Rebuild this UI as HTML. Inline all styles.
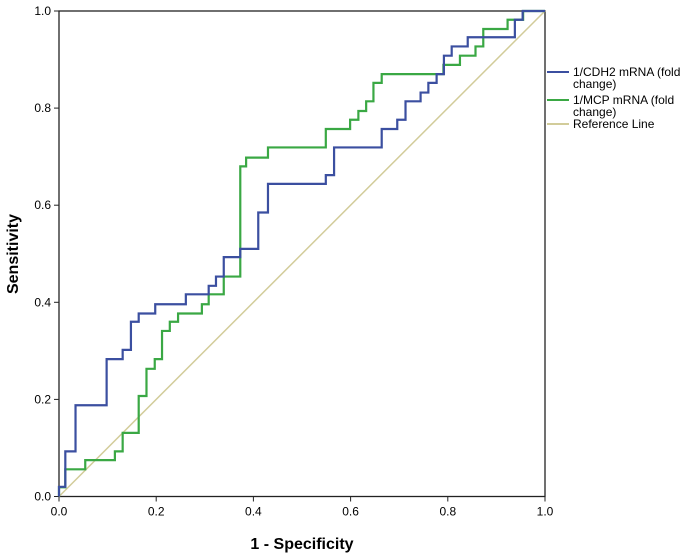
<!DOCTYPE html>
<html><head><meta charset="utf-8"><style>
body{margin:0;background:#fff;}
svg{display:block;font-family:"Liberation Sans",Arial,sans-serif;}
</style></head><body>
<svg id="chart" width="694" height="555" viewBox="0 0 694 555">
<g id="axes"></g>
<g id="series"></g>
<g id="legend"></g>
<text x="302" y="549" font-size="16" font-weight="bold" text-anchor="middle">1 - Specificity</text>
<text x="18" y="254" font-size="16" font-weight="bold" text-anchor="middle" transform="rotate(-90 18 254)">Sensitivity</text>
</svg>
<script>
const xTicks=[0,0.2,0.4,0.6,0.8,1.0];
const yTicks=[0,0.2,0.4,0.6,0.8,1.0];
const tickLabels=["0.0","0.2","0.4","0.6","0.8","1.0"];
const cdh2Fpr=[0,0.013,0.034,0.098,0.131,0.148,0.164,0.198,0.261,0.308,0.323,0.339,0.373,0.41,0.43,0.549,0.566,0.664,0.696,0.713,0.744,0.760,0.777,0.792,0.808,0.841,0.938,0.954,1];
const cdh2Tpr=[0.02,0.093,0.188,0.283,0.302,0.36,0.377,0.396,0.4165,0.434,0.453,0.493,0.51,0.585,0.644,0.662,0.719,0.757,0.776,0.814,0.832,0.852,0.870,0.908,0.927,0.946,0.982,1,1];
const mcpFpr=[0,0.013,0.054,0.115,0.131,0.164,0.180,0.197,0.212,0.228,0.245,0.294,0.308,0.339,0.373,0.385,0.43,0.549,0.599,0.616,0.632,0.647,0.664,0.791,0.825,0.857,0.873,0.923,0.955,1];
const mcpTpr=[0.019,0.056,0.075,0.093,0.131,0.207,0.263,0.283,0.341,0.36,0.377,0.396,0.4165,0.453,0.68,0.698,0.719,0.757,0.776,0.794,0.814,0.852,0.870,0.889,0.908,0.927,0.963,0.982,1,1];
const legendLabels=[["1/CDH2 mRNA (fold","change)"],["1/MCP mRNA (fold","change)"],["Reference Line"]];

const NS="http://www.w3.org/2000/svg";
const X0=59,X1=545,Y0=496.5,Y1=11;
const sx=v=>X0+v*(X1-X0), sy=v=>Y0-v*(Y0-Y1);
function mk(tag,attrs,parent){const e=document.createElementNS(NS,tag);for(const k in attrs)e.setAttribute(k,attrs[k]);parent.appendChild(e);return e;}
const axes=document.getElementById('axes'),series=document.getElementById('series'),legend=document.getElementById('legend');
const frame=mk('rect',{x:X0,y:Y1,width:X1-X0,height:Y0-Y1,fill:'none',stroke:'#222','stroke-width':1.3},axes);


xTicks.forEach((t,i)=>{
  const l=mk('line',{x1:sx(t),x2:sx(t),y1:Y0,y2:Y0+5,stroke:'#222'},axes);
  
  
  const tx=mk('text',{x:sx(t),y:Y0+19,'font-size':12,'text-anchor':'middle'},axes);
  tx.textContent=tickLabels[i];
  
  
});
yTicks.forEach((t,i)=>{
  const l=mk('line',{x1:X0-5,x2:X0,y1:sy(t),y2:sy(t),stroke:'#222'},axes);
  
  
  const tx=mk('text',{x:X0-8,y:sy(t)+4,'font-size':12,'text-anchor':'end'},axes);
  tx.textContent=tickLabels[i];
  
  
});
const ref=mk('line',{x1:sx(0),y1:sy(0),x2:sx(1),y2:sy(1),stroke:'#d2cc9a','stroke-width':1.5},series);


function step(fpr,tpr){let d=`M${sx(0)},${sy(0)}`;for(let i=0;i<fpr.length;i++){d+=` H${sx(fpr[i])} V${sy(tpr[i])}`;}return d;}
const g=mk('path',{d:step(mcpFpr,mcpTpr),fill:'none',stroke:'#3aa844','stroke-width':2.2},series);


const b=mk('path',{d:step(cdh2Fpr,cdh2Tpr),fill:'none',stroke:'#3b4fa0','stroke-width':2.2},series);


const colors=['#3b4fa0','#3aa844','#d2cc9a'],ly=[72,100,124];
legendLabels.forEach((lab,i)=>{
  const l=mk('line',{x1:547,x2:569,y1:ly[i],y2:ly[i],stroke:colors[i],'stroke-width':2},legend);
  
  
  lab.forEach((s,j)=>{
    const t=mk('text',{x:573,y:ly[i]+4+j*12,'font-size':12},legend);
    t.textContent=s;
    
    
  });
});
</script>
</body></html>
